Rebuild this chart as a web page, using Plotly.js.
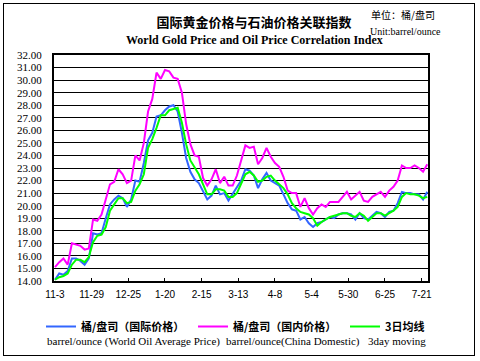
<!DOCTYPE html>
<html><head><meta charset="utf-8">
<script src="https://cdn.plot.ly/plotly-3.0.1.min.js"></script>
<style>
html,body{margin:0;padding:0;background:#fff;}
#chart{position:absolute;left:0;top:0;width:480px;height:361px;}
#frame{position:absolute;left:3px;top:3px;width:470px;height:351px;border:1px solid #000;pointer-events:none;}
</style></head><body>
<div id="chart"></div><div id="frame"></div>
<script>
// sampled every 3 days starting 11-3
const sampleStepDays = 3;
const tickLabels = ['11-3','11-29','12-25','1-20','2-15','3-13','4-8','5-4','5-30','6-25','7-21'];
const tickDays = [0,26,52,78,104,130,156,182,208,234,260];

const worldPrice = [14.1,14.6,14.5,14.8,15.8,15.8,15.6,15.3,15.8,17.8,17.7,17.8,19.0,20.1,20.5,20.8,20.6,19.9,
  20.5,22.0,21.9,23.4,25.2,25.8,27.1,27.2,27.6,27.9,28.0,27.5,25.8,23.8,22.7,22.1,21.8,21.1,
  20.5,20.8,21.6,20.9,21.0,20.4,20.9,21.4,22.0,22.9,22.8,22.4,21.4,22.1,22.6,22.0,21.8,21.6,
  20.9,20.2,19.7,19.6,18.9,19.1,18.6,18.3,18.6,18.7,18.9,19.1,19.0,19.3,19.4,19.4,19.3,18.9,
  19.4,19.0,18.9,19.2,19.5,19.4,19.1,19.5,19.6,20.2,21.1,21.0,21.0,20.9,20.9,20.5,21.1];

const domesticPrice = [15.1,15.5,15.8,15.3,17.0,16.9,16.8,16.5,16.6,18.9,18.8,19.3,20.5,21.7,21.9,22.9,22.5,21.8,
  22.0,24.0,23.6,25.0,27.5,28.5,30.6,30.1,30.8,30.7,30.2,30.1,29.0,26.5,24.9,24.0,23.9,22.2,
  21.6,22.1,22.9,21.8,22.3,21.6,21.6,22.4,23.6,24.8,24.6,24.7,23.3,23.8,24.6,23.9,23.4,23.1,
  22.3,21.2,21.0,21.0,19.9,20.6,19.8,19.3,19.8,20.1,19.9,20.3,20.3,20.3,20.7,21.1,20.5,20.8,
  21.1,20.4,20.3,20.7,20.9,21.1,20.7,21.2,21.5,22.0,23.2,23.0,23.0,23.2,23.0,22.7,23.3];

const movingAvg3 = [14.1,14.3,14.4,14.6,15.3,15.7,15.7,15.5,15.9,17.1,17.6,17.7,18.3,19.6,20.1,20.6,20.6,20.2,
  20.3,21.2,21.7,22.5,24.6,25.3,26.2,27.2,27.2,27.6,27.7,27.8,26.6,24.9,23.6,23.1,22.5,21.7,
  20.9,20.9,21.3,21.3,21.2,20.7,20.7,21.0,21.8,22.5,22.7,22.4,21.9,22.0,22.3,22.4,22.0,21.7,
  21.4,20.9,20.2,19.8,19.5,19.4,19.3,19.0,18.4,18.7,18.9,19.1,19.2,19.3,19.4,19.4,19.2,19.1,
  19.4,19.2,18.8,19.1,19.4,19.4,19.2,19.4,19.6,19.9,20.7,21.0,20.9,20.9,20.8,20.6,20.7];

const seriesNames = ['桶/盘司（国际价格）','桶/盘司（国内价格）','3日均线'];
const seriesSubNames = ['barrel/ounce (World Oil Average Price)','barrel/ounce(China Domestic)','3day moving'];
const titleCn = '国际黄金价格与石油价格关联指数';
const titleEn = 'World Gold Price and Oil Price Correlation Index';
const unitCn = '单位：桶/盘司';
const unitEn = 'Unit:barrel/ounce';

const days = worldPrice.map((_, i) => i * sampleStepDays);

const W = 480, H = 361, L = 54, R = 428, T = 55, B = 281;
const px2x = p => (p - L) / (R - L);
const py2y = p => (B - p) / (B - T);

const traces = [
  {x: days, y: worldPrice, name: seriesNames[0], type: 'scatter', mode: 'lines',
   line: {color: '#3366ff', width: 2}},
  {x: days, y: domesticPrice, name: seriesNames[1], type: 'scatter', mode: 'lines',
   line: {color: '#ff00ff', width: 2}},
  {x: days, y: movingAvg3, name: seriesNames[2], type: 'scatter', mode: 'lines', legendwidth: 50,
   line: {color: '#00ff00', width: 2}}
];

const serif = 'Liberation Serif, Times New Roman, serif';
const cjk = 'Noto Sans CJK SC, sans-serif';

const layout = {
  width: W, height: H,
  margin: {l: L, r: W - R, t: T, b: H - B, pad: 0, autoexpand: false},
  paper_bgcolor: '#fff', plot_bgcolor: '#fff',
  showlegend: true,
  title: {text: titleCn, font: {family: cjk, size: 13, weight: 'bold', color: '#000'},
    x: 254 / W, xref: 'container', xanchor: 'center', y: 1 - 22 / H, yref: 'container', yanchor: 'middle'},
  xaxis: {range: [-0.7, 264.5], tickmode: 'array', tickvals: tickDays, ticktext: tickLabels,
    showgrid: false, zeroline: false, showline: true, linecolor: '#000', linewidth: 2, mirror: true,
    ticks: 'inside', ticklen: 3, tickcolor: '#000', tickwidth: 1, ticklabelstandoff: 3,
    tickfont: {family: 'Liberation Sans, Arial, sans-serif', size: 10, color: '#000'}},
  yaxis: {range: [14, 32], dtick: 1, tick0: 14, tickformat: '.2f',
    showgrid: true, gridcolor: '#000', gridwidth: 1, zeroline: false,
    showline: true, linecolor: '#000', linewidth: 2, mirror: true, ticks: '', ticklabelstandoff: 8,
    tickfont: {family: serif, size: 11, color: '#000'}},
  legend: {orientation: 'h', xref: 'paper', x: px2x(41), xanchor: 'left',
    yref: 'paper', y: py2y(312), yanchor: 'top',
    font: {family: cjk, size: 11, weight: 'bold', color: '#000'},
    entrywidth: 107, entrywidthmode: 'pixels', itemwidth: 30, bgcolor: 'rgba(0,0,0,0)'},
  annotations: [
    {text: titleEn, x: px2x(254), y: py2y(40), xref: 'paper', yref: 'paper', showarrow: false,
     xanchor: 'center', yanchor: 'middle', font: {family: serif, size: 12, weight: 'bold', color: '#000'}},
    {text: unitCn, x: px2x(369), y: py2y(15), xref: 'paper', yref: 'paper', showarrow: false,
     xanchor: 'left', yanchor: 'middle', font: {family: cjk, size: 10, color: '#000'}},
    {text: unitEn, x: px2x(368), y: py2y(31), xref: 'paper', yref: 'paper', showarrow: false,
     xanchor: 'left', yanchor: 'middle', font: {family: serif, size: 10, color: '#000'}},
    {text: seriesSubNames[0], x: px2x(133), y: py2y(341), xref: 'paper', yref: 'paper', showarrow: false,
     xanchor: 'center', yanchor: 'middle', font: {family: serif, size: 11, color: '#000'}},
    {text: seriesSubNames[1], x: px2x(293), y: py2y(341), xref: 'paper', yref: 'paper', showarrow: false,
     xanchor: 'center', yanchor: 'middle', font: {family: serif, size: 11, color: '#000'}},
    {text: seriesSubNames[2], x: px2x(397), y: py2y(341), xref: 'paper', yref: 'paper', showarrow: false,
     xanchor: 'center', yanchor: 'middle', font: {family: serif, size: 11, color: '#000'}}
  ]
};

Plotly.newPlot('chart', traces, layout, {staticPlot: true, displayModeBar: false});
</script>
</body></html>
